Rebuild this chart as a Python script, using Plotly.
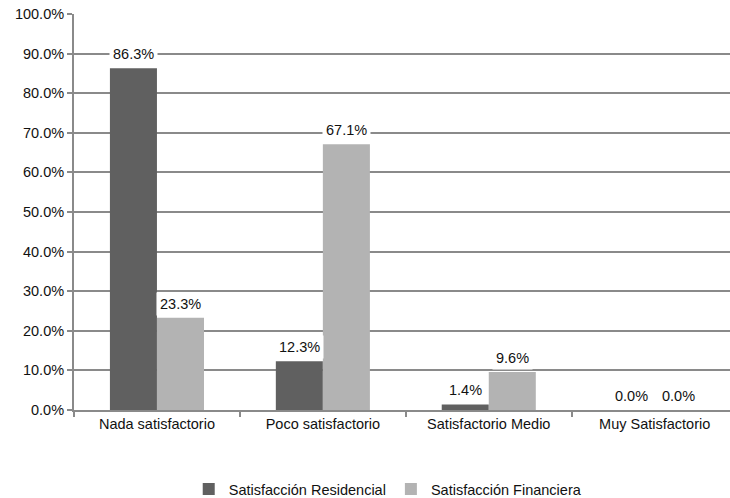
import plotly.graph_objects as go

categories = ["Nada satisfactorio", "Poco satisfactorio", "Satisfactorio Medio", "Muy Satisfactorio"]
residencial = [0.863, 0.123, 0.014, 0.0]
financiera = [0.233, 0.671, 0.096, 0.0]
series_names = ["Satisfacción Residencial", "Satisfacción Financiera"]
y_ticks = [i / 10 for i in range(11)]

dark = "#606060"
light = "#b3b3b3"
grid = "#8a8a8a"
font_family = "Liberation Sans, Arial, sans-serif"
fs = 14.5

fig = go.Figure()
fig.add_trace(go.Bar(x=categories, y=residencial, name=series_names[0],
                     marker=dict(color=dark, line=dict(width=0))))
fig.add_trace(go.Bar(x=categories, y=financiera, name=series_names[1],
                     marker=dict(color=light, line=dict(width=0))))

# value labels with white boxes that mask the gridlines
for vals, shift in ((residencial, -23.5), (financiera, 23.5)):
    for cat, v in zip(categories, vals):
        fig.add_annotation(x=cat, y=v, text=f"{v*100:.1f}%", showarrow=False,
                           xshift=shift, yshift=2, yanchor="bottom",
                           bgcolor="white", borderpad=3,
                           font=dict(size=fs, color="#111", family=font_family))

fig.update_layout(
    width=730, height=498,
    margin=dict(l=74, r=0, t=14, b=88, autoexpand=False),
    paper_bgcolor="white", plot_bgcolor="white",
    barmode="group", bargap=0.433, bargroupgap=0,
    font=dict(family=font_family, size=fs, color="#111"),
    showlegend=True,
    legend=dict(orientation="h", x=0.479, xanchor="center", xref="paper",
                y=0.018, yanchor="middle", yref="container",
                font=dict(size=fs), itemwidth=30, traceorder="normal"),
)
fig.update_xaxes(range=[-0.5, 3.454], tickson="boundaries", ticks="outside",
                 ticklen=5, tickcolor=grid, tickwidth=2,
                 showline=True, linecolor=grid, linewidth=2,
                 showgrid=False, tickfont=dict(size=fs))
fig.update_yaxes(range=[0, 1], tickvals=y_ticks, tickformat=".1%",
                 showgrid=True, gridcolor=grid, gridwidth=2,
                 ticks="outside", ticklen=5, tickcolor=grid, tickwidth=2,
                 showline=True, linecolor=grid, linewidth=2,
                 zeroline=False, tickfont=dict(size=fs))

fig.write_html("out.html")
